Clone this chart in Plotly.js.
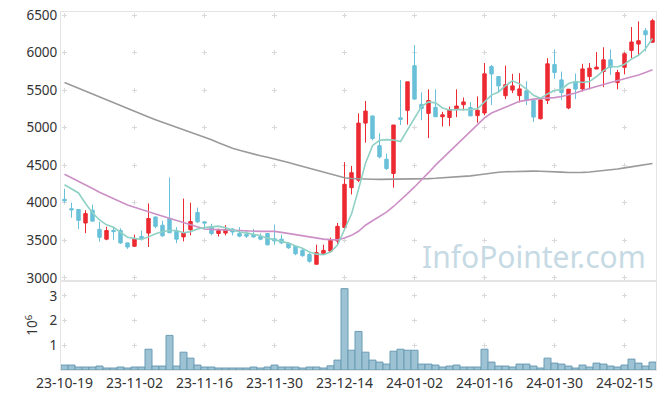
<!DOCTYPE html>
<html>
<head>
<meta charset="utf-8">
<script src="https://cdn.plot.ly/plotly-3.0.1.min.js"></script>
<style>html,body{margin:0;padding:0;background:#fff;}#chart{width:665px;height:398px;}</style>
</head>
<body>
<div id="chart"></div>
<script>
var dates = ['23-10-19','23-10-20','23-10-23','23-10-24','23-10-25','23-10-26','23-10-27','23-10-30','23-10-31','23-11-01',
'23-11-02','23-11-03','23-11-06','23-11-07','23-11-08','23-11-09','23-11-10','23-11-13','23-11-14','23-11-15',
'23-11-16','23-11-17','23-11-20','23-11-21','23-11-22','23-11-23','23-11-24','23-11-27','23-11-28','23-11-29',
'23-11-30','23-12-01','23-12-04','23-12-05','23-12-06','23-12-07','23-12-08','23-12-11','23-12-12','23-12-13',
'23-12-14','23-12-15','23-12-18','23-12-19','23-12-20','23-12-21','23-12-22','23-12-26','23-12-27','23-12-28',
'24-01-02','24-01-03','24-01-04','24-01-05','24-01-08','24-01-09','24-01-10','24-01-11','24-01-12','24-01-15',
'24-01-16','24-01-17','24-01-18','24-01-19','24-01-22','24-01-23','24-01-24','24-01-25','24-01-26','24-01-29',
'24-01-30','24-01-31','24-02-01','24-02-02','24-02-05','24-02-06','24-02-07','24-02-08','24-02-13','24-02-14',
'24-02-15','24-02-16','24-02-19','24-02-20','24-02-21'];

var tickDates = ['23-10-19','23-11-02','23-11-16','23-11-30','23-12-14','24-01-02','24-01-16','24-01-30','24-02-15'];

var openP = [4045,3920,3910,3730,3900,3645,3515,3630,3630,3465,
3420,3550,3595,3810,3700,3790,3620,3545,3640,3870,
3745,3685,3590,3595,3650,3590,3580,3575,3550,3590,
3520,3515,3460,3420,3365,3310,3180,3320,3355,3490,
3670,4200,4300,5060,5155,4760,4580,4390,5130,5230,
5825,5310,5190,5270,5145,5135,5240,5305,5268,5160,
5195,5815,5680,5425,5500,5426,5490,5365,5118,5365,
5840,5636,5262,5615,5516,5680,5780,5747,5903,5600,
5803,6028,6113,6290,6137];

var highP = [4185,4000,3915,3900,3975,3745,3680,3675,3660,3470,
3575,3630,3990,3815,3760,4335,3675,4055,4000,3935,
3750,3720,3655,3700,3660,3675,3630,3650,3590,3595,
3710,3575,3470,3430,3385,3335,3440,3440,3535,3730,
4540,4490,5190,5355,5160,4925,4655,5035,5635,5610,
6100,5470,5510,5510,5210,5280,5510,5400,5340,5415,
5860,5835,5680,5825,5716,5725,5618,5370,5370,5925,
6040,5747,5515,5720,5850,5860,6006,6070,6040,5770,
6003,6340,6415,6327,6450];

var lowP = [4000,3800,3650,3595,3745,3480,3500,3505,3450,3385,
3410,3500,3410,3660,3545,3595,3460,3485,3565,3730,
3645,3565,3550,3565,3565,3540,3530,3535,3500,3430,
3440,3450,3385,3300,3280,3200,3180,3310,3340,3430,
3630,4110,4275,4800,4830,4590,4435,4200,5035,5040,
5370,5100,4860,5140,5015,5020,5140,5230,5150,5065,
5165,5300,5460,5380,5460,5335,5300,5075,5110,5315,
5650,5370,5245,5380,5480,5510,5780,5540,5700,5510,
5710,5925,5965,6015,6135];

var closeP = [4025,3905,3765,3855,3755,3540,3630,3615,3465,3410,
3515,3520,3790,3685,3560,3600,3515,3595,3750,3745,
3730,3590,3630,3640,3610,3555,3555,3545,3515,3440,
3490,3465,3400,3320,3295,3220,3335,3365,3500,3685,
4245,4400,5060,5220,4855,4610,4455,5035,5110,5610,
5380,5255,5360,5145,5170,5240,5288,5343,5157,5232,
5716,5715,5556,5572,5556,5516,5370,5140,5370,5850,
5735,5466,5512,5513,5782,5792,5806,5903,5800,5734,
5983,6140,6157,6237,6424];

var ma5 = [4240,4190,4130,3990,3865,3770,3705,3672,3605,3540,
3525,3510,3545,3588,3614,3630,3630,3600,3615,3650,
3668,3680,3688,3665,3640,3610,3598,3582,3560,3528,
3508,3488,3462,3423,3393,3342,3315,3308,3343,3435,
3640,3850,4178,4525,4760,4830,4840,4835,4815,4975,
5130,5280,5343,5330,5262,5234,5241,5237,5240,5252,
5347,5433,5475,5558,5623,5583,5514,5431,5390,5449,
5493,5512,5587,5615,5602,5613,5681,5759,5817,5807,
5845,5912,5963,6050,6188];

var ma20 = [4380,4335,4290,4240,4190,4140,4095,4050,4010,3970,
3940,3905,3880,3850,3820,3800,3760,3730,3700,3670,
3650,3645,3640,3635,3630,3625,3620,3618,3618,3618,
3618,3605,3590,3570,3555,3540,3525,3515,3508,3505,
3530,3565,3620,3700,3760,3820,3875,3950,4030,4120,
4210,4300,4400,4500,4590,4680,4770,4860,4950,5030,
5130,5195,5230,5270,5310,5350,5370,5380,5388,5392,
5400,5415,5435,5460,5495,5525,5550,5575,5600,5625,
5645,5670,5700,5735,5770];

var ma60 = [5600,5561,5522,5483,5444,5405,5366,5327,5288,5250,
5214,5178,5142,5106,5070,5035,5003,4971,4939,4907,
4875,4838,4798,4760,4726,4698,4672,4648,4625,4605,
4585,4560,4535,4510,4484,4458,4432,4406,4380,4355,
4333,4322,4316,4313,4312,4311,4311,4312,4313,4314,
4316,4318,4321,4325,4330,4336,4342,4350,4358,4370,
4385,4397,4405,4412,4416,4419,4420,4421,4420,4419,
4414,4408,4403,4402,4404,4410,4418,4427,4437,4450,
4464,4478,4492,4507,4522];

var volume = [200000,200000,120000,120000,120000,160000,80000,80000,120000,80000,
120000,120000,840000,160000,160000,1400000,160000,720000,480000,200000,
120000,120000,80000,80000,80000,80000,80000,120000,80000,120000,
200000,120000,120000,120000,80000,120000,120000,80000,170000,400000,
3290000,800000,1560000,720000,400000,320000,240000,760000,840000,800000,
800000,240000,240000,200000,120000,160000,200000,120000,120000,120000,
840000,320000,160000,160000,120000,240000,240000,160000,80000,480000,
280000,240000,160000,80000,200000,120000,280000,240000,160000,120000,
200000,440000,280000,160000,320000];

var priceTicks = [3000,3500,4000,4500,5000,5500,6000,6500];
var volTicks = [1000000,2000000,3000000];
var volTickText = ['1','2','3'];

// ---- layout geometry (styling) ----
var W = 665, H = 398;
var M = {l:61, r:9, t:12, b:28};
var plotW = W - M.l - M.r, plotH = H - M.t - M.b;
var volFrac = 0.25;
var priceRange = [2964, 6540];
var volRange = [0, 3620000];
var nCat = dates.length;
var catPx = plotW / nCat;
var priceH = plotH * (1 - volFrac), volH = plotH * volFrac;
var pPx = priceH / (priceRange[1] - priceRange[0]);
var vPx = volH / (volRange[1] - volRange[0]);
var arm = 5;
function crossDash(firstCenter, period) {
  var g1 = Math.max(firstCenter - arm / 2, 0);
  var g2 = period - arm - g1;
  return '0px,' + g1.toFixed(2) + 'px,' + arm + 'px,' + g2.toFixed(2) + 'px';
}
var hDash = crossDash(catPx * 0.5, catPx * 10);
var vDashPrice = crossDash((priceRange[1] - 6500) * pPx, 500 * pPx);
var vDashVol = crossDash((volRange[1] - 3000000) * vPx, 1000000 * vPx);

var red = '#ec2a32', blue = '#69c0d9';
var gridC = '#d9d9d9', lineC = '#e4e4e4';
var fontFam = 'Noto Sans, Open Sans, sans-serif';

var traces = [
  {type:'candlestick', x:dates, open:openP, high:highP, low:lowP, close:closeP,
   xaxis:'x', yaxis:'y', whiskerwidth:0, hoverinfo:'skip',
   increasing:{line:{color:red, width:1}, fillcolor:red},
   decreasing:{line:{color:blue, width:1}, fillcolor:blue}},
  {type:'scatter', mode:'lines', x:dates, y:ma60, xaxis:'x', yaxis:'y',
   line:{color:'#9a9a9a', width:1.6}, hoverinfo:'skip'},
  {type:'scatter', mode:'lines', x:dates, y:ma20, xaxis:'x', yaxis:'y',
   line:{color:'#cc90c6', width:1.6}, hoverinfo:'skip'},
  {type:'scatter', mode:'lines', x:dates, y:ma5, xaxis:'x', yaxis:'y',
   line:{color:'#8fd1c4', width:1.6}, hoverinfo:'skip'},
  {type:'bar', x:dates, y:volume, xaxis:'x2', yaxis:'y2',
   marker:{color:'#9cc2d3', line:{color:'#6a9cb5', width:1}}, hoverinfo:'skip'}
];

var layout = {
  width:W, height:H, margin:M,
  paper_bgcolor:'#ffffff', plot_bgcolor:'#ffffff',
  showlegend:false, bargap:0,
  font:{family:fontFam, size:13, color:'#333333'},
  xaxis:{type:'category', domain:[0,1], anchor:'y', range:[-0.5, nCat-0.5],
    tickvals:tickDates, showticklabels:false, ticks:'',
    showgrid:true, gridcolor:gridC, gridwidth:1, griddash:vDashPrice,
    showline:true, mirror:true, linecolor:lineC, linewidth:1,
    zeroline:false, rangeslider:{visible:false}, fixedrange:true},
  yaxis:{domain:[volFrac,1], anchor:'x', range:priceRange,
    tickvals:priceTicks, ticks:'', showgrid:true, gridcolor:gridC, gridwidth:1, griddash:hDash,
    showline:true, mirror:true, linecolor:lineC, linewidth:1, zeroline:false,
    tickfont:{size:13.5, color:'#333333'}, fixedrange:true},
  xaxis2:{type:'category', domain:[0,1], anchor:'y2', range:[-0.5, nCat-0.5],
    tickvals:tickDates, ticktext:tickDates, showticklabels:true, ticks:'',
    showgrid:true, gridcolor:gridC, gridwidth:1, griddash:vDashVol,
    showline:true, mirror:true, linecolor:lineC, linewidth:1, zeroline:false,
    tickfont:{size:14, color:'#333333'}, fixedrange:true},
  yaxis2:{domain:[0,volFrac], anchor:'x2', range:volRange,
    tickvals:volTicks, ticktext:volTickText, ticks:'',
    showgrid:true, gridcolor:gridC, gridwidth:1, griddash:hDash,
    showline:true, mirror:true, linecolor:lineC, linewidth:1, zeroline:false,
    tickfont:{size:13.5, color:'#333333'},
    title:{text:'10<sup>6</sup>', font:{size:13.5, color:'#333333'}, standoff:8},
    fixedrange:true},
  annotations:[{
    text:'InfoPointer.com', xref:'paper', yref:'paper',
    x:0.987, y:0.316, xanchor:'right', yanchor:'middle', showarrow:false,
    font:{family:fontFam, size:30, color:'#c6dae4'}
  }]
};

Plotly.newPlot('chart', traces, layout, {displayModeBar:false, staticPlot:true});
</script>
</body>
</html>
